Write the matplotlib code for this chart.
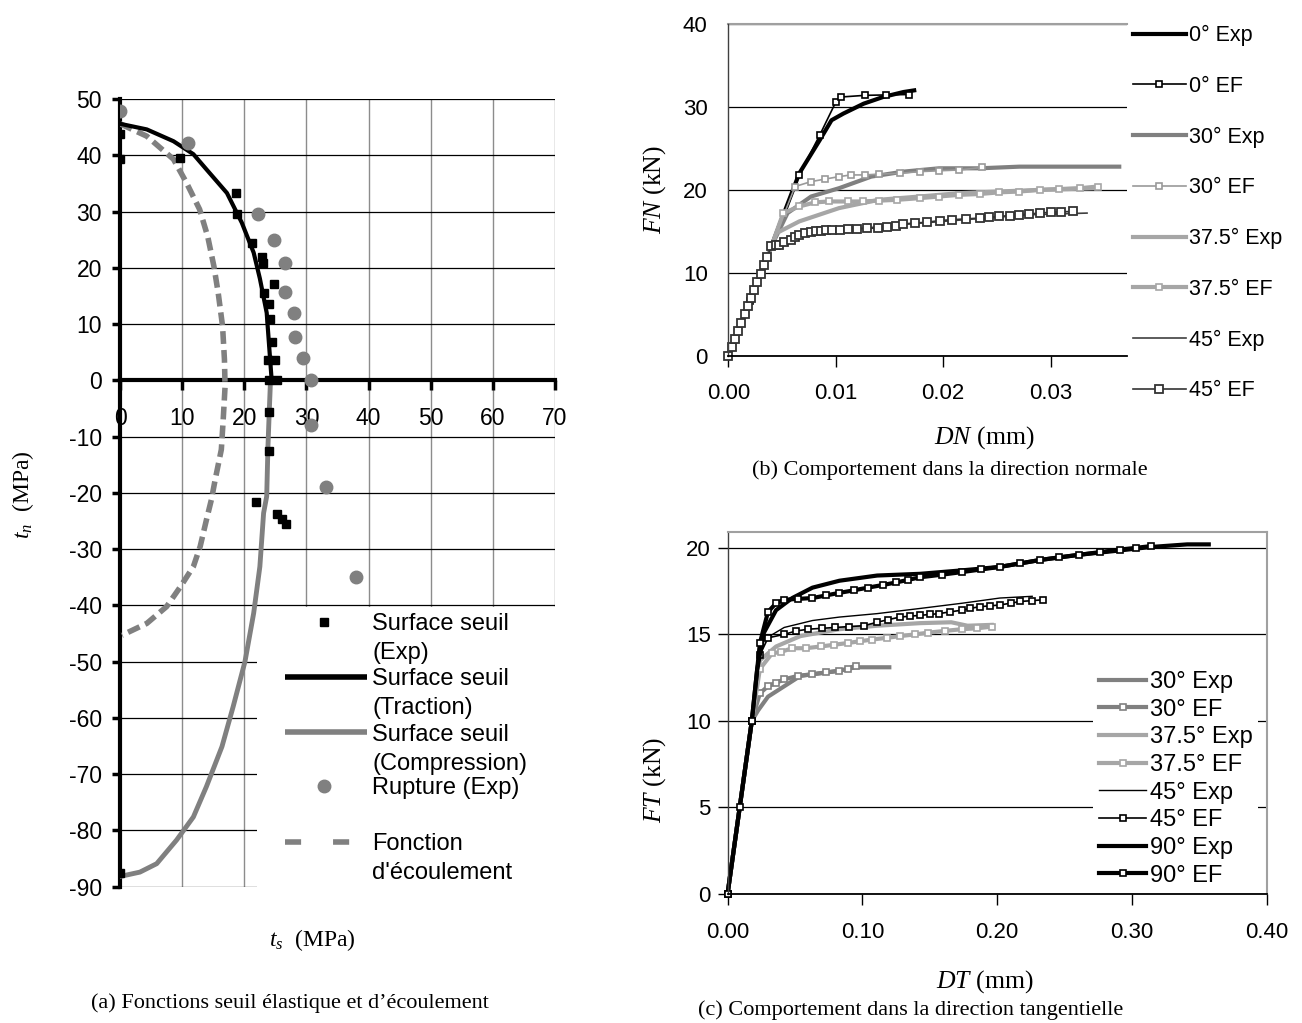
import matplotlib
matplotlib.use("Agg")
import matplotlib.pyplot as plt
from matplotlib.lines import Line2D
from matplotlib.patches import Rectangle

plt.rcParams['font.family'] = ['Liberation Sans', 'DejaVu Sans']
plt.rcParams['mathtext.fontset'] = 'custom'
plt.rcParams['mathtext.it'] = 'Liberation Serif:italic'
plt.rcParams['mathtext.rm'] = 'Liberation Serif'
plt.rcParams['axes.unicode_minus'] = False

# ---------------- (a) surfaces seuil ----------------
rup_ts = [0.0, 10.9, 22.2, 24.8, 26.6, 26.6, 28.0, 28.2, 29.5, 30.7, 30.7, 33.2, 37.9]
rup_tn = [47.9, 42.1, 29.6, 25.0, 20.9, 15.7, 11.9, 7.7, 4.0, 0.1, -7.9, -18.9, -34.9]

exp_ts = [0.0, 0.0, 9.7, 18.6, 18.9, 21.3, 22.8, 23.0, 23.2, 24.0, 24.7, 24.2, 24.4,
          23.8, 25.0, 24.0, 25.3, 24.0, 24.0, 21.9, 25.3, 26.0, 26.7, 0.0]
exp_tn = [43.7, 39.3, 39.6, 33.3, 29.5, 24.4, 21.9, 20.9, 15.5, 13.6, 17.2, 10.9, 6.9,
          3.7, 3.7, 0.0, 0.0, -5.7, -12.6, -21.7, -23.7, -24.7, -25.5, -87.5]

trac_ts = [0.0, 4.3, 8.6, 11.8, 13.9, 17.2, 19.6, 21.5, 22.5, 23.6, 24.0, 24.4]
trac_tn = [45.6, 44.6, 42.5, 40.2, 37.5, 33.3, 28.0, 22.7, 18.1, 12.0, 6.0, 0.0]

comp_ts = [24.4, 24.2, 24.0, 23.8, 23.6, 23.1, 22.5, 21.5, 20.1, 18.2, 16.4, 13.9,
           11.8, 9.1, 5.9, 3.2, 0.3]
comp_tn = [0.0, -0.3, -5.9, -11.8, -20.6, -23.6, -33.1, -41.4, -50.0, -58.0, -65.1,
           -72.2, -77.6, -81.7, -85.9, -87.4, -88.1]

ecoul_ts = [0.0, 4.3, 8.6, 10.7, 12.8, 14.1, 15.1, 15.8, 16.5, 16.8, 16.9, 16.6, 16.3,
            15.3, 14.7, 13.9, 12.9, 11.8, 9.7, 7.5, 4.3, 0.3]
ecoul_tn = [45.6, 43.4, 39.3, 35.1, 30.4, 25.6, 20.3, 15.5, 9.6, 3.7, -1.1, -7.0, -12.3,
            -17.7, -21.2, -24.8, -29.5, -33.1, -36.7, -40.2, -43.2, -45.3]

leg_a_labels = [['Surface seuil', '(Exp)'], ['Surface seuil', '(Traction)'],
                ['Surface seuil', '(Compression)'], ['Rupture (Exp)'],
                ['Fonction', "d'écoulement"]]

# ---------------- (b) direction normale ----------------
dn_0_exp = [0.0, 0.0020, 0.0040, 0.0066, 0.0085, 0.0096, 0.0107, 0.0126, 0.0144, 0.0163, 0.0173]
fn_0_exp = [0.0, 6.6, 13.2, 22.0, 26.0, 28.4, 29.2, 30.4, 31.2, 31.8, 32.0]
dn_0_ef = [0.0, 0.0020, 0.0040, 0.0066, 0.0085, 0.0100, 0.0105, 0.0127, 0.0147, 0.0168]
fn_0_ef = [0.0, 6.6, 13.2, 21.8, 26.6, 30.6, 31.2, 31.4, 31.45, 31.5]
dn_30_exp = [0.0, 0.0040, 0.0055, 0.0077, 0.0103, 0.0133, 0.0163, 0.0196, 0.0234, 0.0271, 0.0364]
fn_30_exp = [0.0, 13.2, 17.2, 19.2, 20.2, 21.6, 22.2, 22.6, 22.6, 22.8, 22.8]
dn_30_ef = [0.0, 0.0040, 0.0062, 0.0077, 0.0090, 0.0103, 0.0114, 0.0127, 0.0140, 0.0160,
            0.0178, 0.0196, 0.0215, 0.0236]
fn_30_ef = [0.0, 13.2, 20.4, 21.0, 21.3, 21.6, 21.8, 21.8, 21.9, 22.0, 22.2, 22.3, 22.4, 22.7]
dn_375_exp = [0.0, 0.0040, 0.0045, 0.0066, 0.0103, 0.0140, 0.0178, 0.0215, 0.0252, 0.0290, 0.0342]
fn_375_exp = [0.0, 13.2, 14.8, 16.2, 17.8, 18.8, 19.2, 19.6, 19.8, 20.0, 20.2]
dn_375_ef = [0.0, 0.0040, 0.0051, 0.0066, 0.0081, 0.0094, 0.0111, 0.0125, 0.0140, 0.0157,
             0.0178, 0.0196, 0.0215, 0.0234, 0.0252, 0.0271, 0.0290, 0.0308, 0.0327, 0.0344]
fn_375_ef = [0.0, 13.2, 17.2, 18.0, 18.5, 18.6, 18.6, 18.6, 18.7, 18.8, 19.0, 19.2, 19.4,
             19.5, 19.7, 19.8, 20.0, 20.1, 20.2, 20.4]
dn_45_exp = [0.0, 0.0040, 0.0047, 0.0058, 0.0070, 0.0090, 0.0120, 0.0160, 0.0200, 0.0240,
             0.0280, 0.0334]
fn_45_exp = [0.0, 13.2, 13.6, 14.2, 14.7, 15.0, 15.3, 15.8, 16.2, 16.6, 17.0, 17.2]
dn_45_ef = [0.0, 0.0003, 0.0006, 0.0009, 0.0012, 0.0015, 0.0018, 0.0021, 0.0024, 0.0027,
            0.0030, 0.0033, 0.0036, 0.0040, 0.0044, 0.0047, 0.0052, 0.0058, 0.0062, 0.0066,
            0.0071, 0.0077, 0.0082, 0.0086, 0.0091, 0.0096, 0.0104, 0.0111, 0.0120, 0.0129,
            0.0139, 0.0148, 0.0156, 0.0163, 0.0174, 0.0185, 0.0197, 0.0208, 0.0221, 0.0234,
            0.0243, 0.0252, 0.0262, 0.0271, 0.0280, 0.0290, 0.0300, 0.0310, 0.0321]
fn_45_ef = [0.0, 1.0, 2.0, 3.0, 4.0, 5.0, 6.0, 7.0, 7.9, 8.9, 9.9, 10.9, 11.9, 13.2, 13.3,
            13.4, 13.7, 14.0, 14.3, 14.6, 14.8, 14.9, 15.0, 15.0, 15.1, 15.1, 15.2, 15.3,
            15.3, 15.35, 15.4, 15.5, 15.7, 15.9, 16.0, 16.1, 16.3, 16.4, 16.5, 16.6, 16.7,
            16.8, 16.9, 17.0, 17.1, 17.2, 17.3, 17.35, 17.4]

# ---------------- (c) direction tangentielle ----------------
dt_30_exp = [0.0, 0.018, 0.0226, 0.030, 0.042, 0.054, 0.083, 0.095, 0.120]
ft_30_exp = [0.0, 10.0, 10.6, 11.4, 12.0, 12.6, 12.9, 13.1, 13.1]
dt_30_ef = [0.0, 0.018, 0.024, 0.030, 0.036, 0.042, 0.052, 0.063, 0.073, 0.083, 0.089, 0.095]
ft_30_ef = [0.0, 10.0, 11.6, 12.0, 12.2, 12.4, 12.6, 12.7, 12.8, 12.9, 13.0, 13.2]
dt_375_exp = [0.0, 0.018, 0.024, 0.036, 0.054, 0.083, 0.111, 0.143, 0.166, 0.178, 0.196]
ft_375_exp = [0.0, 10.0, 13.5, 14.3, 14.9, 15.3, 15.5, 15.65, 15.7, 15.5, 15.55]
dt_375_ef = [0.0, 0.018, 0.024, 0.033, 0.040, 0.048, 0.058, 0.069, 0.079, 0.089, 0.098,
             0.107, 0.118, 0.128, 0.139, 0.149, 0.161, 0.174, 0.185, 0.196]
ft_375_ef = [0.0, 10.0, 13.0, 13.9, 14.0, 14.2, 14.2, 14.3, 14.4, 14.5, 14.6, 14.7, 14.8,
             14.9, 15.0, 15.1, 15.2, 15.3, 15.35, 15.45]
dt_45_exp = [0.0, 0.018, 0.022, 0.027, 0.042, 0.063, 0.083, 0.111, 0.143, 0.174, 0.202, 0.226]
ft_45_exp = [0.0, 10.0, 13.0, 14.7, 15.4, 15.8, 16.0, 16.2, 16.5, 16.8, 17.1, 17.2]
dt_45_ef = [0.0, 0.018, 0.024, 0.030, 0.042, 0.051, 0.060, 0.070, 0.080, 0.090, 0.101,
            0.111, 0.119, 0.128, 0.135, 0.143, 0.150, 0.157, 0.165, 0.174, 0.180, 0.187,
            0.195, 0.202, 0.210, 0.217, 0.226, 0.234]
ft_45_ef = [0.0, 10.0, 13.8, 14.8, 15.0, 15.2, 15.3, 15.35, 15.4, 15.45, 15.5, 15.7, 15.85,
            16.0, 16.05, 16.1, 16.15, 16.2, 16.3, 16.4, 16.5, 16.6, 16.65, 16.7, 16.8, 16.9,
            16.95, 17.0]
dt_90_exp = [0.0, 0.009, 0.018, 0.022, 0.027, 0.036, 0.048, 0.063, 0.083, 0.111, 0.143,
             0.174, 0.202, 0.232, 0.261, 0.291, 0.314, 0.341, 0.357]
ft_90_exp = [0.0, 5.0, 10.0, 13.0, 15.1, 16.4, 17.1, 17.7, 18.1, 18.4, 18.5, 18.7, 18.9,
             19.3, 19.6, 19.85, 20.05, 20.2, 20.2]
dt_90_ef = [0.0, 0.009, 0.018, 0.024, 0.030, 0.036, 0.042, 0.052, 0.063, 0.073, 0.083,
            0.094, 0.104, 0.115, 0.125, 0.134, 0.143, 0.159, 0.174, 0.188, 0.202, 0.217,
            0.232, 0.246, 0.261, 0.276, 0.291, 0.303, 0.314]
ft_90_ef = [0.0, 5.0, 10.0, 14.5, 16.3, 16.8, 17.0, 17.05, 17.1, 17.25, 17.4, 17.55, 17.7,
            17.85, 18.0, 18.15, 18.3, 18.45, 18.6, 18.75, 18.9, 19.1, 19.3, 19.45, 19.6,
            19.75, 19.9, 20.0, 20.1]

GRAY = '#808080'
LIGHT = '#a6a6a6'
DARK = '#333333'
SERIF = 'Liberation Serif'

fig = plt.figure(figsize=(13.02, 10.23), dpi=100)

# ======================= panel (a) =======================
ax = fig.add_axes([0.0922, 0.1332, 0.3341, 0.7700])
ax.set_xlim(0, 70)
ax.set_ylim(-90, 50)
ax.set_xticks(range(0, 71, 10))
ax.set_yticks(range(-90, 51, 10))
ax.set_axisbelow(True)
ax.xaxis.grid(True, color='#8c8c8c', lw=1.0)
ax.yaxis.grid(True, color='black', lw=0.9)
ax.spines['top'].set_visible(False)
ax.spines['right'].set_visible(False)
ax.spines['bottom'].set_position(('data', 0))
ax.spines['bottom'].set_linewidth(3)
ax.spines['left'].set_linewidth(3)
ax.spines['bottom'].set_zorder(1.5)
ax.spines['left'].set_zorder(1.5)
ax.tick_params(axis='x', direction='out', length=7, width=2.5, labelsize=16.5, pad=12)
ax.tick_params(axis='y', direction='out', length=6, width=2.5, labelsize=16.5, pad=7)

ax.plot(comp_ts, comp_tn, color=GRAY, lw=3.5, zorder=3)
ax.plot(ecoul_ts, ecoul_tn, color=GRAY, lw=4, dashes=(2.3, 1.1), zorder=3)
ax.plot(trac_ts, trac_tn, color='black', lw=3, zorder=4)
ax.plot(exp_ts, exp_tn, ls='none', marker='s', ms=5.5, color='black', zorder=5)
ax.plot(rup_ts, rup_tn, ls='none', marker='o', ms=9, color=GRAY, mec=GRAY, zorder=5)

# white legend area (covers grid in the lower right)
ax.add_patch(Rectangle((0.315, -0.03), 0.72, 0.385, transform=ax.transAxes,
                       facecolor='white', edgecolor='none', zorder=2.5, clip_on=False))

leg_a_first = [0.3364, 0.2666, 0.1960, 0.1278, 0.0571]
leg_a_step = 0.0368
leg_styles = [dict(ls='none', marker='s', ms=5.5, color='black'),
              dict(color='black', lw=4),
              dict(color=GRAY, lw=4),
              dict(ls='none', marker='o', ms=9, color=GRAY),
              dict(color=GRAY, lw=4, dashes=(2.9, 5.75))]
for lines, y0, st in zip(leg_a_labels, leg_a_first, leg_styles):
    if st.get('ls') == 'none':
        h = Line2D([0.469], [y0], transform=ax.transAxes, **st)
    else:
        h = Line2D([0.3793, 0.5671], [y0, y0], transform=ax.transAxes,
                   solid_capstyle='butt', dash_capstyle='butt', **st)
    h.set_clip_on(False)
    h.set_zorder(6)
    ax.add_line(h)
    for k, txt in enumerate(lines):
        ax.text(0.5793, y0 - k * leg_a_step - 0.0105, txt, transform=ax.transAxes,
                fontsize=17, va='baseline', ha='left', zorder=6)

fig.text(0.0177, 0.516, r'$t_n$  (MPa)', rotation=90, ha='center', va='center',
         fontsize=17, family=SERIF)
fig.text(0.2396, 0.0811, r'$t_s$  (MPa)', ha='center', va='center',
         fontsize=17, family=SERIF)
fig.text(0.2227, 0.0190, '(a) Fonctions seuil élastique et d’écoulement', ha='center',
         va='center', fontsize=16, family=SERIF)

# ======================= panel (b) =======================
bx = fig.add_axes([0.5595, 0.6523, 0.3059, 0.3242])
bx.set_xlim(0, 0.0371)
bx.set_ylim(0, 40)
bx.set_xticks([0.0, 0.01, 0.02, 0.03])
bx.set_xticklabels(['0.00', '0.01', '0.02', '0.03'])
bx.set_yticks([0, 10, 20, 30, 40])
bx.set_axisbelow(True)
bx.yaxis.grid(True, color='black', lw=0.9)
bx.spines['right'].set_visible(False)
bx.spines['top'].set_color('#a0a0a0')
bx.spines['top'].set_linewidth(1.5)
bx.spines['top'].set_zorder(1)
bx.spines['left'].set_color('#404040')
bx.spines['left'].set_linewidth(1)
bx.spines['bottom'].set_linewidth(1.3)
bx.tick_params(axis='x', direction='out', length=8, width=1, labelsize=16, pad=12)
bx.tick_params(axis='y', direction='out', length=0, labelsize=16, pad=15)

hb = []
hb += bx.plot(dn_0_exp, fn_0_exp, color='black', lw=3, label='0° Exp')
hb += bx.plot(dn_0_ef, fn_0_ef, color='black', lw=1.2, marker='s', ms=4, mfc='white',
              mec='black', mew=1.2, label='0° EF')
hb += bx.plot(dn_30_exp, fn_30_exp, color=GRAY, lw=3, label='30° Exp')
hb += bx.plot(dn_30_ef, fn_30_ef, color='#9a9a9a', lw=1.2, marker='s', ms=4, mfc='white',
              mec='#9a9a9a', mew=1.2, label='30° EF')
hb += bx.plot(dn_375_exp, fn_375_exp, color=LIGHT, lw=3, label='37.5° Exp')
hb += bx.plot(dn_375_ef, fn_375_ef, color=LIGHT, lw=3, marker='s', ms=4, mfc='white',
              mec=LIGHT, mew=1.2, label='37.5° EF')
hb += bx.plot(dn_45_exp, fn_45_exp, color='#404040', lw=1.2, label='45° Exp')
hb += bx.plot(dn_45_ef, fn_45_ef, color=DARK, lw=1.2, marker='s', ms=6, mfc='white',
              mec=DARK, mew=1.3, label='45° EF')
for h in hb:
    h.set_clip_on(False)

fig.legend(handles=hb, loc='upper left', bbox_to_anchor=(0.8702, 0.9756),
           bbox_transform=fig.transFigure, frameon=False, fontsize=15.5,
           borderpad=0, borderaxespad=0, handlelength=2.45, handletextpad=0.15,
           labelspacing=1.38)

fig.text(0.503, 0.8143, r'$FN$ (kN)', rotation=90, ha='center', va='center',
         fontsize=18.5, family=SERIF)
fig.text(0.7558, 0.5718, r'$DN$ (mm)', ha='center', va='center',
         fontsize=18.5, family=SERIF)
fig.text(0.7296, 0.5406, '(b) Comportement dans la direction normale', ha='center',
         va='center', fontsize=16, family=SERIF)

# ======================= panel (c) =======================
cx = fig.add_axes([0.5588, 0.1261, 0.4141, 0.3536])
cx.set_xlim(0, 0.40)
cx.set_ylim(0, 20.9)
cx.set_xticks([0.0, 0.1, 0.2, 0.3, 0.4])
cx.set_xticklabels(['0.00', '0.10', '0.20', '0.30', '0.40'])
cx.set_yticks([0, 5, 10, 15, 20])
cx.set_axisbelow(True)
cx.yaxis.grid(True, color='black', lw=0.9)
for s in ('top', 'right'):
    cx.spines[s].set_color('#a0a0a0')
    cx.spines[s].set_linewidth(1.5)
cx.spines['left'].set_color('#404040')
cx.spines['left'].set_linewidth(1)
cx.spines['bottom'].set_linewidth(1.3)
cx.tick_params(axis='x', direction='out', length=8, width=1, labelsize=16, pad=12)
cx.tick_params(axis='y', direction='out', length=7, width=1, labelsize=16, pad=5)

hc = []
hc += cx.plot(dt_30_exp, ft_30_exp, color=GRAY, lw=3, label='30° Exp')
hc += cx.plot(dt_30_ef, ft_30_ef, color=GRAY, lw=3, marker='s', ms=4, mfc='white',
              mec=GRAY, mew=1.2, label='30° EF')
hc += cx.plot(dt_375_exp, ft_375_exp, color=LIGHT, lw=3, label='37.5° Exp')
hc += cx.plot(dt_375_ef, ft_375_ef, color=LIGHT, lw=3, marker='s', ms=4, mfc='white',
              mec=LIGHT, mew=1.2, label='37.5° EF')
hc += cx.plot(dt_45_exp, ft_45_exp, color='black', lw=1, label='45° Exp')
hc += cx.plot(dt_45_ef, ft_45_ef, color='black', lw=1.2, marker='s', ms=4, mfc='white',
              mec='black', mew=1.2, label='45° EF')
hc += cx.plot(dt_90_exp, ft_90_exp, color='black', lw=3, label='90° Exp')
hc += cx.plot(dt_90_ef, ft_90_ef, color='black', lw=3, marker='s', ms=4, mfc='white',
              mec='black', mew=1.2, label='90° EF')
for h in hc:
    h.set_clip_on(False)

leg_c = cx.legend(handles=hc, loc='upper left', bbox_to_anchor=(0.8395, 0.3500),
                  bbox_transform=fig.transFigure, frameon=True, fontsize=17,
                  borderpad=0.25, borderaxespad=0, handlelength=2.0, handletextpad=0.15,
                  labelspacing=0.24, fancybox=False)
leg_c.get_frame().set_facecolor('white')
leg_c.get_frame().set_edgecolor('none')
leg_c.get_frame().set_alpha(1)
leg_c.set_zorder(10)

fig.text(0.503, 0.2375, r'$FT$ (kN)', rotation=90, ha='center', va='center',
         fontsize=18.5, family=SERIF)
fig.text(0.7565, 0.0401, r'$DT$ (mm)', ha='center', va='center',
         fontsize=18.5, family=SERIF)
fig.text(0.6997, 0.0127, '(c) Comportement dans la direction tangentielle', ha='center',
         va='center', fontsize=16, family=SERIF)

fig.savefig('out.png', dpi=100)
